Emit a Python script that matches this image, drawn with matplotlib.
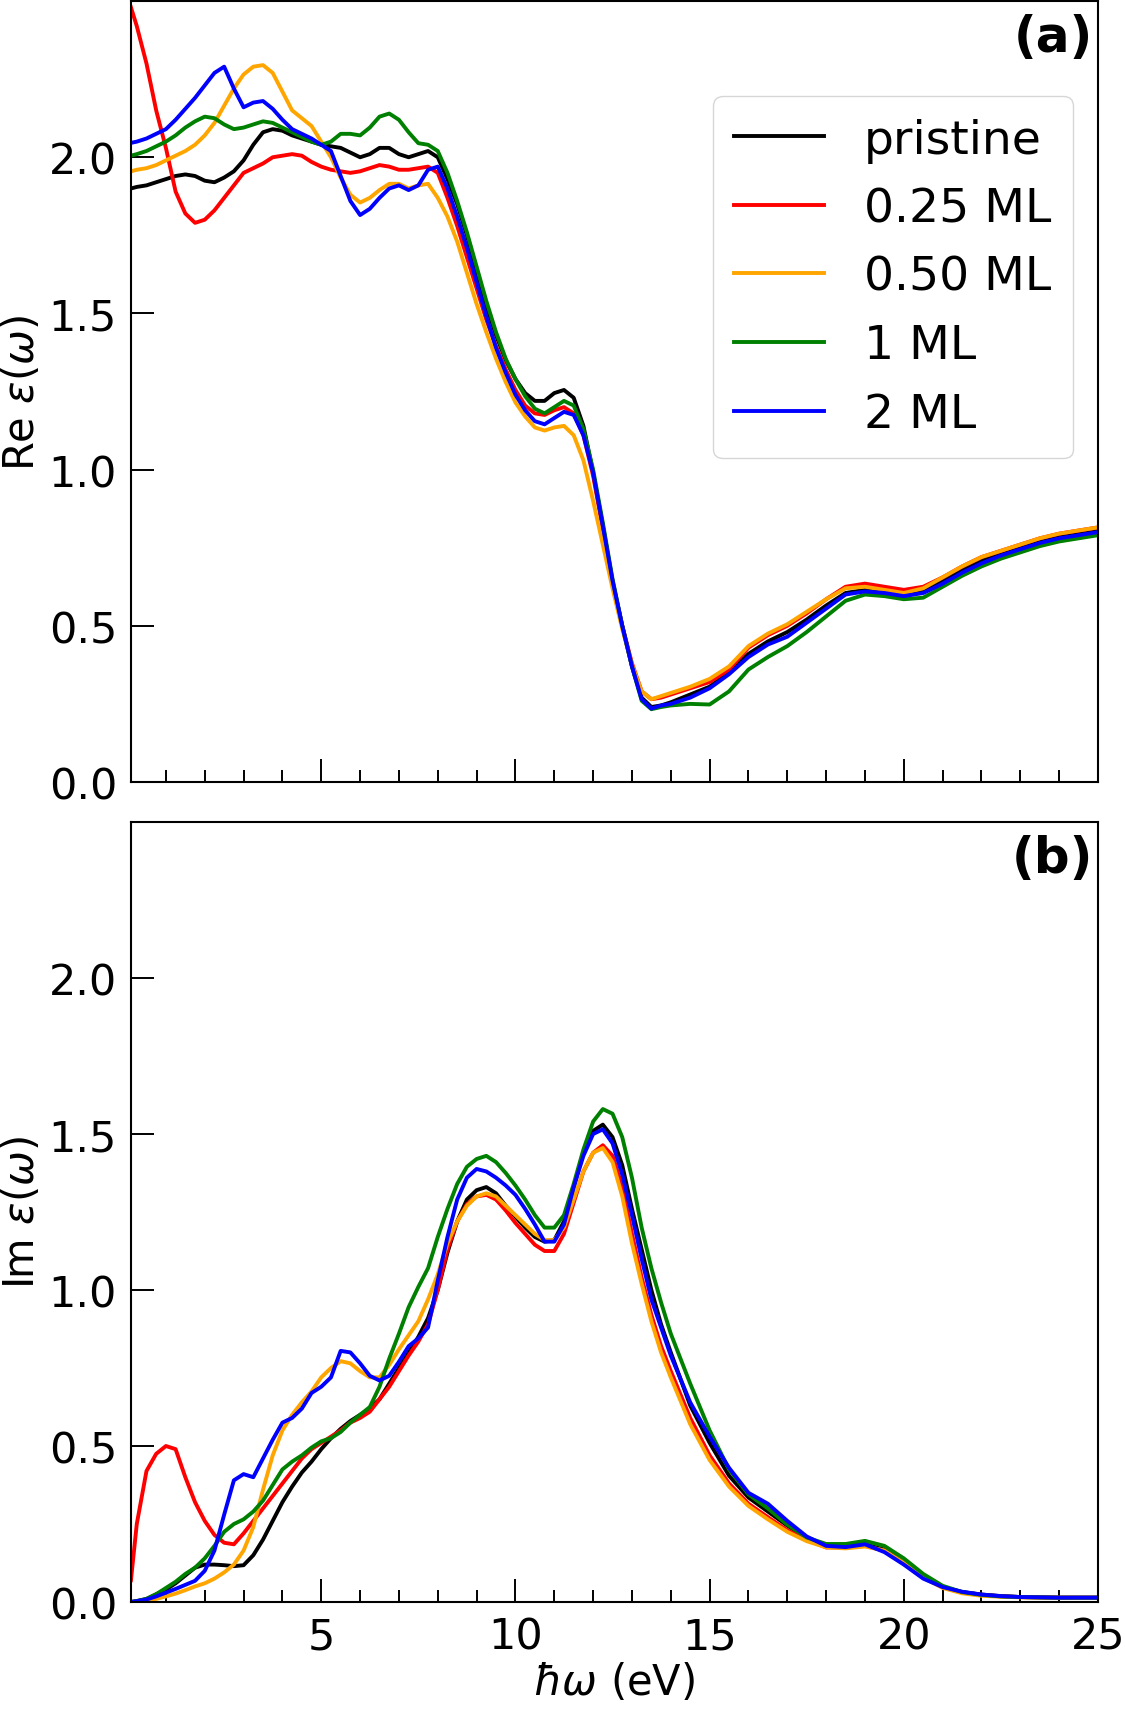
import matplotlib
matplotlib.use("Agg")
import matplotlib.pyplot as plt
from matplotlib.ticker import MultipleLocator

# ---------------- data ----------------
energy = [0.1, 0.25, 0.5, 0.75, 1.0, 1.25, 1.5, 1.75,
          2.0, 2.25, 2.5, 2.75, 3.0, 3.25, 3.5, 3.75,
          4.0, 4.25, 4.5, 4.75, 5.0, 5.25, 5.5, 5.75,
          6.0, 6.25, 6.5, 6.75, 7.0, 7.25, 7.5, 7.75,
          8.0, 8.25, 8.5, 8.75, 9.0, 9.25, 9.5, 9.75,
          10.0, 10.25, 10.5, 10.75, 11.0, 11.25, 11.5, 11.75,
          12.0, 12.25, 12.5, 12.75, 13.0, 13.25, 13.5, 13.75,
          14.0,
          14.5, 15.0, 15.5, 16.0, 16.5, 17.0, 17.5, 18.0, 18.5, 19.0, 19.5,
          20.0, 20.5, 21.0, 21.5, 22.0, 22.5, 23.0, 23.5, 24.0, 24.5, 25.0]

labels = ["pristine", "0.25 ML", "0.50 ML", "1 ML", "2 ML"]
colors = ["black", "red", "orange", "green", "blue"]

re_pristine = [1.900, 1.905, 1.910, 1.920, 1.930, 1.940, 1.945, 1.940,
               1.925, 1.920, 1.935, 1.955, 1.990, 2.040, 2.080, 2.090,
               2.085, 2.070, 2.060, 2.050, 2.040, 2.035, 2.030, 2.015,
               2.000, 2.010, 2.030, 2.030, 2.010, 2.000, 2.010, 2.020,
               2.000, 1.930, 1.850, 1.750, 1.635, 1.525, 1.430, 1.350,
               1.290, 1.245, 1.220, 1.220, 1.245, 1.255, 1.230, 1.140,
               0.990, 0.820, 0.640, 0.500, 0.370, 0.270, 0.240, 0.245,
               0.255,
               0.280, 0.305, 0.350, 0.410, 0.450, 0.480, 0.520, 0.565, 0.605, 0.615, 0.605,
               0.595, 0.610, 0.645, 0.680, 0.710, 0.735, 0.755, 0.770, 0.785, 0.795, 0.805]

re_025 = [2.480, 2.420, 2.300, 2.150, 2.030, 1.890, 1.820, 1.790,
          1.800, 1.830, 1.870, 1.910, 1.950, 1.965, 1.980, 2.000,
          2.005, 2.010, 2.005, 1.985, 1.970, 1.960, 1.955, 1.950,
          1.955, 1.965, 1.975, 1.970, 1.960, 1.960, 1.965, 1.970,
          1.950, 1.870, 1.780, 1.680, 1.580, 1.480, 1.395, 1.320,
          1.255, 1.205, 1.180, 1.175, 1.190, 1.200, 1.180, 1.110,
          0.980, 0.810, 0.640, 0.500, 0.380, 0.290, 0.265, 0.270,
          0.280,
          0.300, 0.320, 0.360, 0.430, 0.470, 0.500, 0.540, 0.585, 0.625, 0.635, 0.625,
          0.615, 0.625, 0.655, 0.690, 0.720, 0.740, 0.760, 0.780, 0.795, 0.805, 0.815]

re_050 = [1.955, 1.960, 1.965, 1.975, 1.990, 2.005, 2.020, 2.040,
          2.070, 2.110, 2.165, 2.220, 2.265, 2.290, 2.295, 2.270,
          2.210, 2.150, 2.125, 2.100, 2.050, 2.000, 1.935, 1.880,
          1.855, 1.870, 1.895, 1.915, 1.915, 1.900, 1.910, 1.915,
          1.870, 1.810, 1.730, 1.630, 1.530, 1.440, 1.355, 1.280,
          1.215, 1.170, 1.135, 1.125, 1.135, 1.140, 1.110, 1.030,
          0.900, 0.760, 0.620, 0.490, 0.375, 0.290, 0.265, 0.275,
          0.285,
          0.305, 0.330, 0.370, 0.435, 0.475, 0.505, 0.545, 0.585, 0.620, 0.625, 0.615,
          0.605, 0.620, 0.655, 0.690, 0.720, 0.740, 0.760, 0.780, 0.795, 0.805, 0.815]

re_1 = [2.005, 2.010, 2.020, 2.035, 2.050, 2.070, 2.095, 2.115,
        2.130, 2.125, 2.105, 2.090, 2.095, 2.105, 2.115, 2.110,
        2.095, 2.080, 2.065, 2.050, 2.040, 2.050, 2.075, 2.075,
        2.070, 2.095, 2.130, 2.140, 2.120, 2.080, 2.045, 2.040,
        2.020, 1.950, 1.860, 1.760, 1.650, 1.540, 1.440, 1.355,
        1.290, 1.235, 1.195, 1.180, 1.200, 1.220, 1.205, 1.130,
        1.000, 0.830, 0.650, 0.500, 0.370, 0.260, 0.233, 0.240,
        0.245,
        0.250, 0.248, 0.290, 0.360, 0.400, 0.435, 0.480, 0.530, 0.580, 0.600, 0.595,
        0.585, 0.590, 0.625, 0.660, 0.690, 0.715, 0.735, 0.755, 0.770, 0.780, 0.790]

re_2 = [2.046, 2.050, 2.060, 2.075, 2.090, 2.120, 2.155, 2.190,
        2.230, 2.270, 2.290, 2.220, 2.160, 2.175, 2.180, 2.155,
        2.120, 2.090, 2.075, 2.060, 2.040, 2.020, 1.940, 1.860,
        1.815, 1.835, 1.870, 1.900, 1.910, 1.895, 1.910, 1.960,
        1.970, 1.900, 1.810, 1.710, 1.600, 1.490, 1.390, 1.310,
        1.240, 1.190, 1.155, 1.145, 1.165, 1.185, 1.175, 1.110,
        0.990, 0.820, 0.645, 0.500, 0.370, 0.265, 0.235, 0.245,
        0.250,
        0.270, 0.300, 0.345, 0.400, 0.440, 0.465, 0.510, 0.555, 0.600, 0.610, 0.605,
        0.595, 0.605, 0.635, 0.670, 0.700, 0.725, 0.745, 0.765, 0.780, 0.790, 0.800]

im_pristine = [0.000, 0.003, 0.010, 0.025, 0.040, 0.060, 0.085, 0.110,
               0.120, 0.120, 0.118, 0.115, 0.118, 0.150, 0.200, 0.260,
               0.320, 0.370, 0.415, 0.450, 0.490, 0.525, 0.555, 0.580,
               0.600, 0.620, 0.650, 0.700, 0.750, 0.800, 0.850, 0.910,
               1.000, 1.120, 1.220, 1.290, 1.320, 1.330, 1.310, 1.270,
               1.235, 1.200, 1.170, 1.155, 1.160, 1.220, 1.330, 1.440,
               1.510, 1.530, 1.490, 1.400, 1.260, 1.130, 1.000, 0.890,
               0.800,
               0.630, 0.510, 0.405, 0.335, 0.290, 0.245, 0.205, 0.180, 0.178, 0.185, 0.168,
               0.125, 0.080, 0.048, 0.032, 0.024, 0.019, 0.016, 0.015, 0.014, 0.014, 0.014]

im_025 = [0.070, 0.250, 0.420, 0.475, 0.500, 0.490, 0.400, 0.320,
          0.260, 0.215, 0.190, 0.185, 0.220, 0.260, 0.300, 0.340,
          0.380, 0.420, 0.460, 0.490, 0.510, 0.530, 0.550, 0.575,
          0.590, 0.610, 0.650, 0.690, 0.740, 0.790, 0.835, 0.890,
          1.000, 1.130, 1.220, 1.275, 1.300, 1.305, 1.290, 1.255,
          1.215, 1.180, 1.145, 1.125, 1.125, 1.180, 1.280, 1.380,
          1.440, 1.464, 1.430, 1.330, 1.180, 1.040, 0.920, 0.820,
          0.740,
          0.590, 0.470, 0.380, 0.315, 0.272, 0.230, 0.200, 0.175, 0.175, 0.180, 0.165,
          0.125, 0.080, 0.047, 0.031, 0.023, 0.018, 0.016, 0.015, 0.014, 0.014, 0.014]

im_050 = [0.000, 0.002, 0.005, 0.010, 0.018, 0.027, 0.038, 0.050,
          0.060, 0.075, 0.095, 0.120, 0.165, 0.240, 0.360, 0.470,
          0.550, 0.600, 0.640, 0.675, 0.720, 0.750, 0.772, 0.765,
          0.740, 0.720, 0.720, 0.760, 0.810, 0.855, 0.900, 0.970,
          1.050, 1.150, 1.220, 1.270, 1.300, 1.310, 1.300, 1.270,
          1.240, 1.210, 1.180, 1.160, 1.160, 1.200, 1.290, 1.380,
          1.440, 1.455, 1.410, 1.300, 1.150, 1.020, 0.900, 0.800,
          0.720,
          0.570, 0.455, 0.370, 0.308, 0.265, 0.225, 0.195, 0.175, 0.172, 0.178, 0.165,
          0.125, 0.078, 0.045, 0.028, 0.020, 0.017, 0.015, 0.014, 0.014, 0.013, 0.013]

im_1 = [0.000, 0.003, 0.010, 0.025, 0.045, 0.065, 0.090, 0.110,
        0.140, 0.180, 0.225, 0.250, 0.265, 0.290, 0.325, 0.375,
        0.425, 0.450, 0.470, 0.495, 0.515, 0.525, 0.545, 0.575,
        0.600, 0.625, 0.690, 0.780, 0.860, 0.945, 1.010, 1.070,
        1.170, 1.260, 1.340, 1.395, 1.420, 1.430, 1.410, 1.375,
        1.335, 1.290, 1.240, 1.200, 1.200, 1.240, 1.340, 1.450,
        1.540, 1.580, 1.565, 1.490, 1.360, 1.200, 1.070, 0.960,
        0.860,
        0.700, 0.550, 0.425, 0.345, 0.300, 0.248, 0.207, 0.186, 0.186, 0.196, 0.180,
        0.140, 0.090, 0.052, 0.032, 0.023, 0.018, 0.016, 0.015, 0.014, 0.014, 0.014]

im_2 = [0.000, 0.003, 0.008, 0.018, 0.030, 0.042, 0.055, 0.068,
        0.100, 0.165, 0.280, 0.390, 0.410, 0.400, 0.460, 0.520,
        0.575, 0.590, 0.620, 0.670, 0.690, 0.720, 0.805, 0.800,
        0.765, 0.725, 0.710, 0.725, 0.770, 0.820, 0.845, 0.880,
        1.030, 1.170, 1.290, 1.360, 1.388, 1.380, 1.360, 1.335,
        1.305, 1.260, 1.210, 1.155, 1.155, 1.210, 1.330, 1.430,
        1.500, 1.515, 1.470, 1.370, 1.240, 1.100, 0.970, 0.880,
        0.790,
        0.640, 0.530, 0.430, 0.350, 0.315, 0.260, 0.210, 0.180, 0.176, 0.185, 0.160,
        0.120, 0.075, 0.048, 0.033, 0.024, 0.019, 0.016, 0.015, 0.014, 0.014, 0.014]

re_series = [re_pristine, re_025, re_050, re_1, re_2]
im_series = [im_pristine, im_025, im_050, im_1, im_2]

xticks = [5, 10, 15, 20, 25]
yticks = [0.0, 0.5, 1.0, 1.5, 2.0]

# ---------------- figure ----------------
fig = plt.figure(figsize=(11.25, 17.33), dpi=100)
ax1 = fig.add_axes([0.1164, 0.5482, 0.8596, 0.4506])
ax2 = fig.add_axes([0.1164, 0.0750, 0.8596, 0.4501])

LW = 2.8
for ax, series in ((ax1, re_series), (ax2, im_series)):
    for y, c, lab in zip(series, colors, labels):
        ax.plot(energy, y, color=c, lw=LW, label=lab)
    ax.set_xlim(0.1, 25)
    ax.set_ylim(0, 2.5)
    ax.set_xticks(xticks)
    ax.xaxis.set_minor_locator(MultipleLocator(1))
    ax.set_yticks(yticks)
    ax.tick_params(axis='both', which='major', direction='in', length=16.5,
                   width=1.4, labelsize=31, pad=10)
    ax.tick_params(axis='x', which='minor', direction='in', length=8.5, width=1.4)
    for sp in ax.spines.values():
        sp.set_linewidth(1.5)

ax1.tick_params(axis='x', which='both', labelbottom=False)
ax1.set_ylabel(r'Re $\varepsilon(\omega)$', fontsize=30, labelpad=4)
ax2.set_ylabel(r'Im $\varepsilon(\omega)$', fontsize=30, labelpad=4)
ax2.set_xlabel(r'$\hbar\omega$ (eV)', fontsize=30, labelpad=2)

ax1.text(0.995, 0.985, '(a)', transform=ax1.transAxes, ha='right', va='top',
         fontsize=36, fontweight='bold')
ax2.text(0.995, 0.985, '(b)', transform=ax2.transAxes, ha='right', va='top',
         fontsize=36, fontweight='bold')

leg = ax1.legend(loc='upper right', bbox_to_anchor=(0.974, 0.878), borderaxespad=0,
                 fontsize=34, handlelength=1.9, handletextpad=0.85,
                 labelspacing=0.5, borderpad=0.45)

fig.savefig("out.png", dpi=100)
